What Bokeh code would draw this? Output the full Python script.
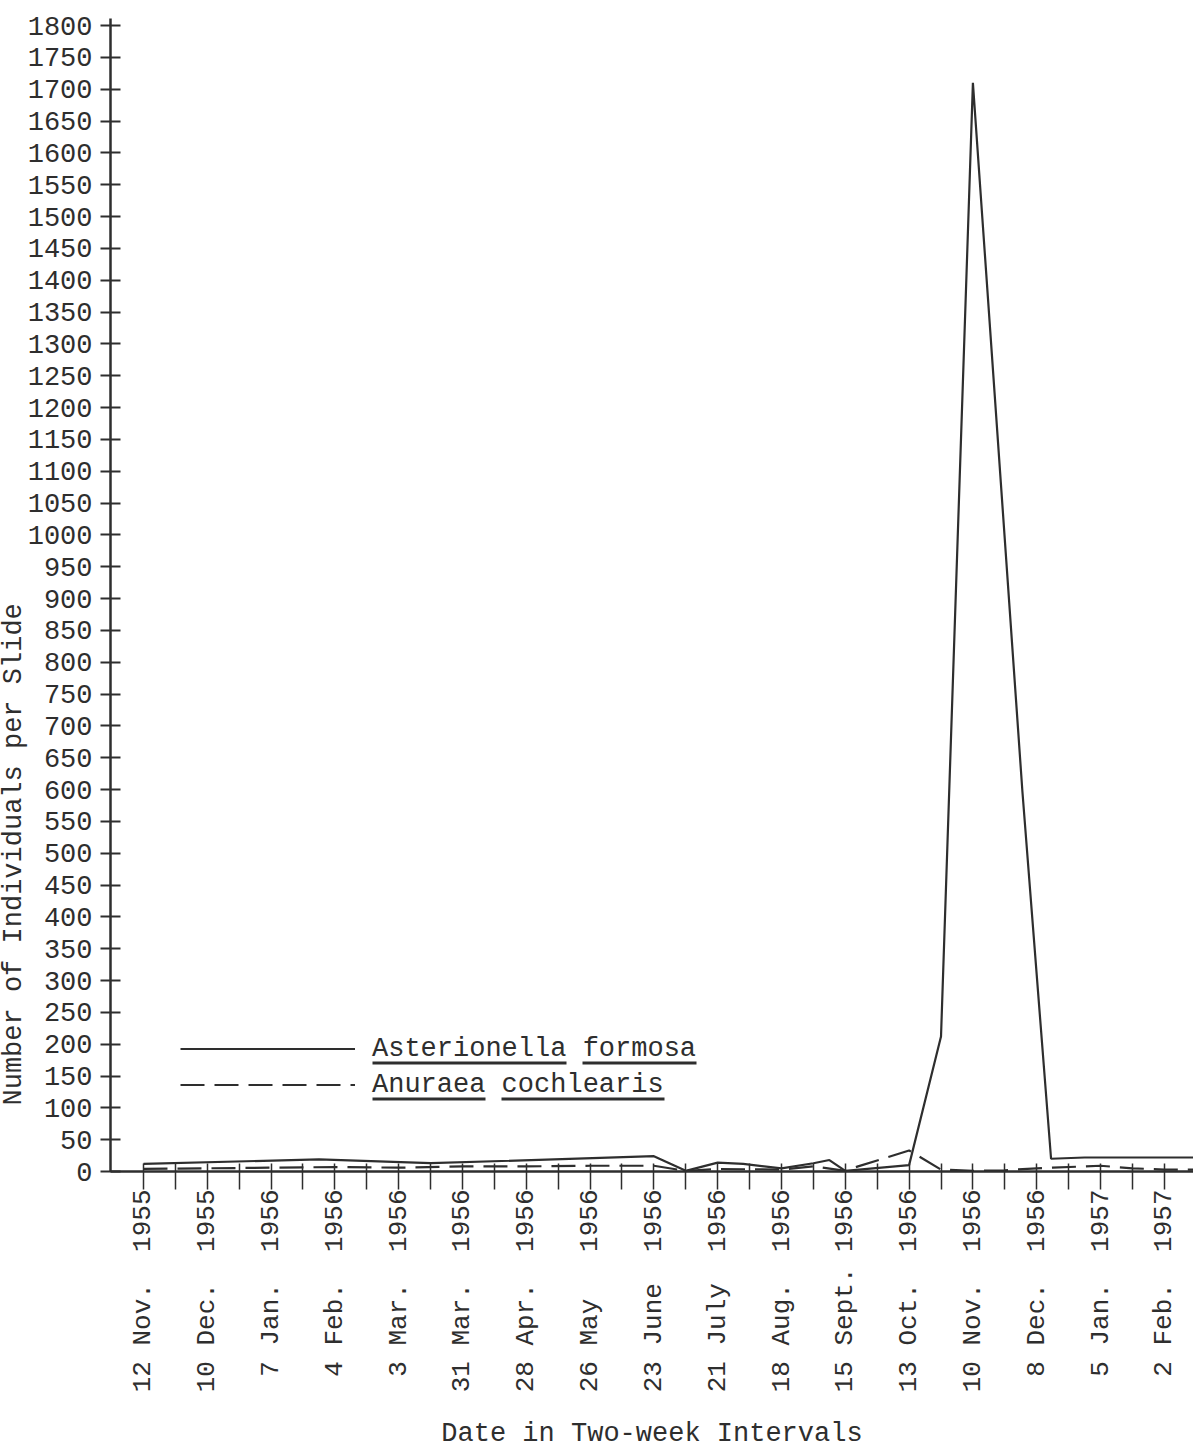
from math import pi
from bokeh.plotting import figure
from bokeh.models import FixedTicker, Range1d, Legend, LegendItem, Title, BoxAnnotation
from bokeh.embed import file_html
from bokeh.resources import INLINE

# ---- tick labels (one per four weeks; minor ticks every two weeks) ----
tick_days = [12, 10, 7, 4, 3, 31, 28, 26, 23, 21, 18, 15, 13, 10, 8, 5, 2]
tick_months = ["Nov.", "Dec.", "Jan.", "Feb.", "Mar.", "Mar.", "Apr.", "May", "June",
               "July", "Aug.", "Sept.", "Oct.", "Nov.", "Dec.", "Jan.", "Feb."]
tick_years = [1955, 1955, 1956, 1956, 1956, 1956, 1956, 1956, 1956,
              1956, 1956, 1956, 1956, 1956, 1956, 1957, 1957]

# ---- series (x = position in two-week intervals from 12 Nov. 1955) ----
aster_x = [0, 5.5, 9, 16, 17, 18, 18.8, 20, 21, 21.5, 22, 24, 25, 26, 27.55, 28.45, 29.5, 33.5]
aster_y = [12, 19, 13, 24, 1, 14, 12, 5, 13, 18, 1, 10, 212, 1710, 598, 20, 22, 22]

anur_x = [0, 2, 4, 6, 8, 10, 12, 14, 16, 17, 18, 20, 21, 22, 22.4, 24, 25, 26, 27, 28, 28.5, 30, 31, 32, 33.5]
anur_y = [4, 5, 6, 7, 6, 8, 8, 9, 9, 1, 4, 3, 8, 1, 8, 33, 3, 1, 2, 5, 6, 9, 5, 3, 3]

series_names = ["Asterionella formosa", "Anuraea cochlearis"]

FONT = "Liberation Mono"
INK = "#2e2e2e"

p = figure(width=1193, height=1452, output_backend="svg", toolbar_location=None,
           x_range=Range1d(-1.034, 32.915), y_range=Range1d(0, 1811),
           min_border_left=110, min_border_right=0, min_border_top=18,
           min_border_bottom=281)
p.outline_line_color = None
p.grid.visible = False
p.background_fill_color = "white"
p.border_fill_color = "white"

r1 = p.line(aster_x, aster_y, line_color=INK, line_width=2.2)
r2 = p.line(anur_x, anur_y, line_color=INK, line_width=2.2, line_dash="24 10")

# x axis
labels = []
for d, m, y in zip(tick_days, tick_months, tick_years):
    labels.append(f"{d:>2} {m:<5} {y}".replace(" ", "\u00a0"))
xa = p.xaxis[0]
xa.ticker = FixedTicker(ticks=[2 * i for i in range(len(labels))],
                        minor_ticks=[2 * i + 1 for i in range(len(labels) - 1)])
xa.major_label_overrides = {2 * i: lab for i, lab in enumerate(labels)}
xa.major_label_orientation = pi / 2
xa.major_label_text_font = FONT
xa.major_label_text_font_size = "26px"
xa.major_label_text_color = INK
xa.major_label_standoff = 0
xa.major_tick_in = 8
xa.major_tick_out = 18
xa.minor_tick_in = 8
xa.minor_tick_out = 18
xa.major_tick_line_color = INK
xa.minor_tick_line_color = INK
xa.major_tick_line_width = 1.5
xa.minor_tick_line_width = 1.5
xa.axis_line_color = INK
xa.axis_line_width = 2.5
xa.axis_label = "Date in Two-week Intervals"
xa.axis_label_text_font = FONT
xa.axis_label_text_font_size = "27px"
xa.axis_label_text_font_style = "normal"
xa.axis_label_text_color = INK
xa.axis_label_standoff = 24

# y axis
ya = p.yaxis[0]
ya.ticker = FixedTicker(ticks=list(range(0, 1801, 50)))
ya.major_tick_in = 10
ya.major_tick_out = 10
ya.minor_tick_in = 0
ya.minor_tick_out = 0
ya.major_tick_line_color = INK
ya.major_tick_line_width = 2
ya.axis_line_color = INK
ya.axis_line_width = 2.5
ya.major_label_standoff = 8
ya.major_label_text_font = FONT
ya.major_label_text_font_size = "27px"
ya.major_label_text_color = INK

# y-axis title, placed low along the axis as in the original
p.add_layout(Title(text="Number of Individuals per Slide", align="left", offset=66,
                   standoff=-8, text_font=FONT, text_font_size="27px",
                   text_font_style="normal", text_color=INK), "left")

legend = Legend(items=[LegendItem(label=series_names[0], renderers=[r1]),
                       LegendItem(label=series_names[1], renderers=[r2])],
                location=(70, 71), orientation="vertical",
                glyph_width=175, glyph_height=31, label_height=31,
                label_standoff=17, spacing=5, padding=0, margin=0,
                border_line_color=None, background_fill_alpha=0,
                label_text_font=FONT, label_text_font_size="27px",
                label_text_color=INK)
p.add_layout(legend)

# underlines under each word of the legend labels
for left, right, top in [(372, 566, 1061), (582, 696, 1061), (372, 485, 1097), (501, 664, 1097)]:
    p.add_layout(BoxAnnotation(left=left, right=right, top=top, bottom=top + 3,
                               left_units="canvas", right_units="canvas",
                               top_units="canvas", bottom_units="canvas",
                               fill_color=INK, fill_alpha=1, line_color=None))

open("out.html", "w").write(file_html(p, INLINE))
